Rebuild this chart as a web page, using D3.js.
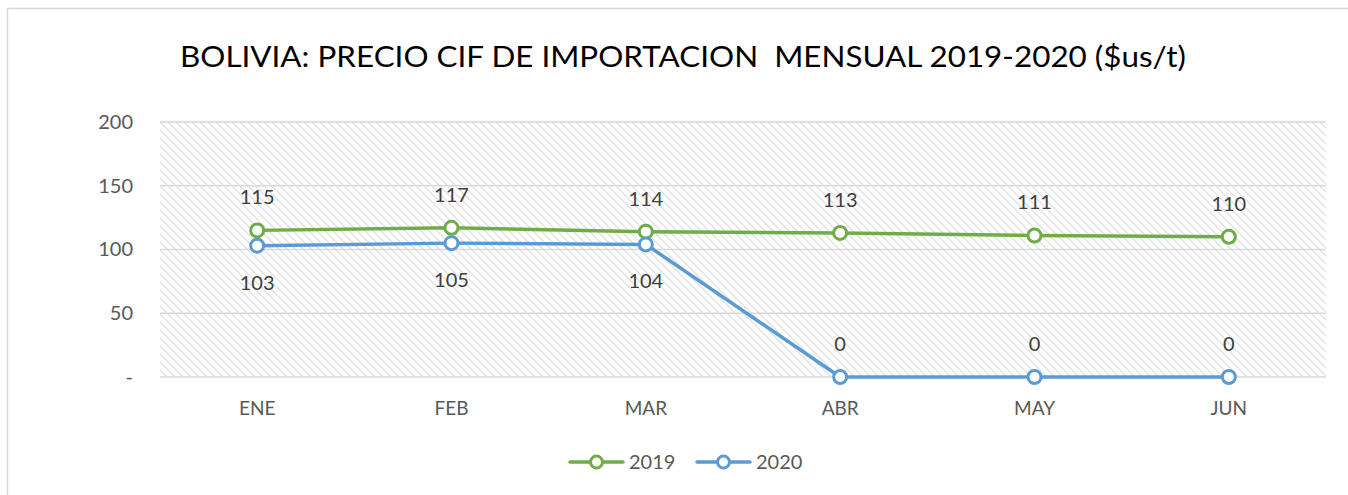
<!DOCTYPE html>
<html>
<head>
<meta charset="utf-8">
<script src="https://cdn.jsdelivr.net/npm/d3@7"></script>
<style>
  body { margin: 0; background: #fff; overflow: hidden; }
  svg { display: block; font-family: Lato, "Open Sans", sans-serif; }
</style>
</head>
<body>
<div id="wrapper"></div>
<script>
// data
const months = ["ENE", "FEB", "MAR", "ABR", "MAY", "JUN"]
const values2019 = [115, 117, 114, 113, 111, 110]
const values2020 = [103, 105, 104, 0, 0, 0]
const yTicks = [0, 50, 100, 150, 200]
const seriesNames = ["2019", "2020"]

const colors = { "2019": "#70ad47", "2020": "#5b9bd5" }

const series = [
  { name: seriesNames[0], values: values2019 },
  { name: seriesNames[1], values: values2020 },
]

const dims = {
  width: 1348,
  height: 495,
  margin: { top: 122, right: 22, bottom: 118, left: 160 }
}
dims.boundedWidth = dims.width - dims.margin.left - dims.margin.right
dims.boundedHeight = dims.height - dims.margin.top - dims.margin.bottom

const svg = d3.select("#wrapper")
  .append("svg")
    .attr("width", dims.width)
    .attr("height", dims.height)

// hatch pattern
const defs = svg.append("defs")
const pat = defs.append("pattern")
    .attr("id", "hatch")
    .attr("patternUnits", "userSpaceOnUse")
    .attr("width", 8)
    .attr("height", 8)
pat.append("path")
    .attr("d", "M-2,-2 L10,10 M-2,6 L2,10 M6,-2 L10,2")
    .attr("stroke", "#e2e2e2")
    .attr("stroke-width", 1.4)

// outer frame (only left / top edges are inside the picture)
svg.append("path")
    .attr("d", `M7.5,${dims.height} V8.5 H${dims.width}`)
    .attr("fill", "none")
    .attr("stroke", "#d9d9d9")
    .attr("stroke-width", 1.5)

// title
svg.append("text")
    .attr("x", 180)
    .attr("y", 67)
    .attr("textLength", 1006)
    .attr("lengthAdjust", "spacingAndGlyphs")
    .style("font-size", "29px")
    .style("fill", "#000")
    .style("white-space", "pre")
    .text("BOLIVIA: PRECIO CIF DE IMPORTACION  MENSUAL 2019-2020 ($us/t)")

const bounds = svg.append("g")
    .attr("transform", `translate(${dims.margin.left},${dims.margin.top})`)

// scales
const xScale = d3.scaleBand()
  .domain(months)
  .range([0, dims.boundedWidth])

const yScale = d3.scaleLinear()
  .domain([0, 200])
  .range([dims.boundedHeight, 0])

const xCenter = m => xScale(m) + xScale.bandwidth() / 2

// plot background
bounds.append("rect")
    .attr("width", dims.boundedWidth)
    .attr("height", dims.boundedHeight)
    .attr("fill", "url(#hatch)")

// gridlines
bounds.append("g")
  .selectAll("line")
  .data(yTicks)
  .join("line")
    .attr("x1", 0)
    .attr("x2", dims.boundedWidth)
    .attr("y1", d => yScale(d))
    .attr("y2", d => yScale(d))
    .attr("stroke", "#d9d9d9")
    .attr("stroke-width", 1.3)

// y axis
const yAxis = bounds.append("g")
  .call(d3.axisLeft(yScale)
    .tickValues(yTicks)
    .tickSize(0)
    .tickPadding(27)
    .tickFormat(d => d === 0 ? "-" : d))
    .attr("font-family", null)
    .attr("font-size", null)
yAxis.select(".domain").remove()
yAxis.selectAll("text")
    .style("font-size", "20px")
    .style("fill", "#595959")

// x axis
const xAxis = bounds.append("g")
    .attr("transform", `translate(0,${dims.boundedHeight})`)
  .call(d3.axisBottom(xScale).tickSize(0).tickPadding(25))
    .attr("font-family", null)
    .attr("font-size", null)
xAxis.select(".domain").remove()
xAxis.selectAll("text")
    .style("font-size", "19px")
    .style("fill", "#595959")

// lines
const lineGen = d3.line()
  .x((d, i) => xCenter(months[i]))
  .y(d => yScale(d))

bounds.selectAll(".series-line")
  .data(series)
  .join("path")
    .attr("class", "series-line")
    .attr("d", d => lineGen(d.values))
    .attr("fill", "none")
    .attr("stroke", d => colors[d.name])
    .attr("stroke-width", 3.5)
    .attr("stroke-linejoin", "round")

// markers
series.forEach(s => {
  bounds.append("g")
    .selectAll("circle")
    .data(s.values)
    .join("circle")
      .attr("cx", (d, i) => xCenter(months[i]))
      .attr("cy", d => yScale(d))
      .attr("r", 6.5)
      .attr("fill", "#fff")
      .attr("stroke", colors[s.name])
      .attr("stroke-width", 3)
})

// data labels
series.forEach((s, si) => {
  bounds.append("g")
    .selectAll("text")
    .data(s.values)
    .join("text")
      .attr("x", (d, i) => xCenter(months[i]))
      .attr("y", d => {
        const above = si === 0 || d === 0
        return yScale(d) + (above ? -26 : 44)
      })
      .attr("text-anchor", "middle")
      .style("font-size", "20px")
      .style("fill", "#404040")
      .text(d => d)
})

// legend
const legend = svg.append("g")
    .attr("transform", "translate(570,462)")
const legendItems = legend.selectAll("g")
  .data(seriesNames)
  .join("g")
    .attr("transform", (d, i) => `translate(${i * 127},0)`)
legendItems.append("line")
    .attr("x1", 0)
    .attr("x2", 53)
    .attr("stroke", d => colors[d])
    .attr("stroke-width", 3.5)
    .attr("stroke-linecap", "round")
legendItems.append("circle")
    .attr("cx", 26.5)
    .attr("r", 6)
    .attr("fill", "#fff")
    .attr("stroke", d => colors[d])
    .attr("stroke-width", 3)
legendItems.append("text")
    .attr("x", 59)
    .attr("y", 7)
    .style("font-size", "20px")
    .style("fill", "#595959")
    .text(d => d)
</script>
</body>
</html>
